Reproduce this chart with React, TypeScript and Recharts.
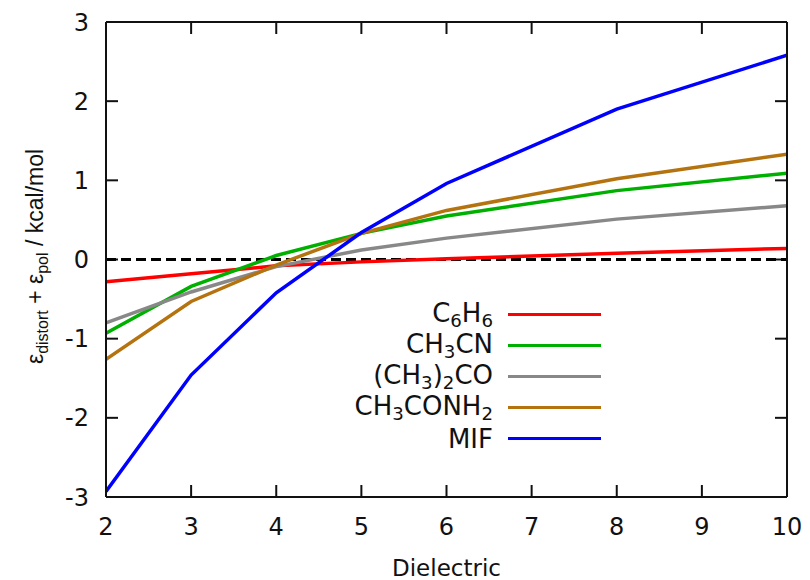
import React from 'react'
import { LineChart, Line, XAxis, YAxis, ReferenceLine, Legend } from 'recharts'

// dielectric constants sampled
const dielectric = [2, 3, 4, 5, 6, 8, 10]

// distortion + polarisation energies, kcal/mol
const c6h6 = [-0.28, -0.18, -0.08, -0.03, 0.01, 0.08, 0.14]
const ch3cn = [-0.93, -0.34, 0.05, 0.33, 0.55, 0.87, 1.09]
const acetone = [-0.8, -0.41, -0.09, 0.12, 0.27, 0.51, 0.68]
const acetamide = [-1.26, -0.53, -0.07, 0.33, 0.62, 1.02, 1.33]
const mif = [-2.93, -1.46, -0.42, 0.34, 0.96, 1.9, 2.58]

const seriesLabels = ['C6H6', 'CH3CN', '(CH3)2CO', 'CH3CONH2', 'MIF']
const seriesValues = [c6h6, ch3cn, acetone, acetamide, mif]
const seriesColors = ['#ff0000', '#00b000', '#888888', '#b5730f', '#0000ff']

const xTicks = [2, 3, 4, 5, 6, 7, 8, 9, 10]
const yTicks = [-3, -2, -1, 0, 1, 2, 3]
const xDomain: [number, number] = [2, 10]
const yDomain: [number, number] = [-3, 3]

const FONT = '"DejaVu Sans", Verdana, sans-serif'
const LABEL_FONT = '"Liberation Sans", Arial, Helvetica, sans-serif'
const INK = '#111'

// plot box is 681 x 475 px; inward tick marks are 12 px long
const X_TICK_LEN = (12 / 681) * (xDomain[1] - xDomain[0])
const Y_TICK_LEN = (12 / 475) * (yDomain[1] - yDomain[0])

const data = dielectric.map((x, i) => {
  const row: Record<string, number> = { x }
  seriesValues.forEach((vals, s) => {
    row['s' + s] = vals[i]
  })
  return row
})

function Formula({ text }: { text: string }) {
  const parts = text.split(/(\d+)/).filter((p) => p !== '')
  return (
    <>
      {parts.map((p, i) =>
        /^\d+$/.test(p) ? (
          <span key={i} style={{ fontSize: '0.7em', position: 'relative', top: '0.3em' }}>{p}</span>
        ) : (
          <span key={i}>{p}</span>
        ),
      )}
    </>
  )
}

function LegendBox() {
  return (
    <div style={{ fontFamily: FONT, fontSize: 26, color: INK }}>
      {seriesLabels.map((label, i) => (
        <div key={label} style={{ display: 'flex', alignItems: 'center', height: 31 }}>
          <div style={{ width: 243, textAlign: 'right', lineHeight: '24px', whiteSpace: 'nowrap' }}>
            <Formula text={label} />
          </div>
          <div style={{ width: 15 }} />
          <div style={{ width: 93, height: 3.5, background: seriesColors[i] }} />
        </div>
      ))}
    </div>
  )
}

// eslint-disable-next-line @typescript-eslint/no-explicit-any
function YLabel(props: any) {
  const { viewBox } = props
  const cx = viewBox.x + 43
  const cy = viewBox.y + viewBox.height / 2 - 3
  return (
    <text
      x={cx}
      y={cy}
      transform={`rotate(-90, ${cx}, ${cy})`}
      textAnchor="middle"
      fontFamily={LABEL_FONT}
      fontSize={23}
      fill={INK}
    >
      <tspan>ε</tspan>
      <tspan fontSize={16} dy={5}>distort</tspan>
      <tspan dy={-5}> + ε</tspan>
      <tspan fontSize={16} dy={5}>pol</tspan>
      <tspan dy={-5}> / kcal/mol</tspan>
    </text>
  )
}

// eslint-disable-next-line @typescript-eslint/no-explicit-any
function XLabel(props: any) {
  const { viewBox } = props
  return (
    <text
      x={viewBox.x + viewBox.width / 2}
      y={viewBox.y + 79}
      textAnchor="middle"
      fontFamily={FONT}
      fontSize={23}
      fill={INK}
    >
      Dielectric
    </text>
  )
}

const axisStroke = { stroke: INK, strokeWidth: 2 }
const tickText = { fill: INK, fontSize: 24, fontFamily: FONT }
const tickMark = { stroke: INK, strokeWidth: 2 }

export default function App() {
  return (
    <div style={{ position: 'absolute', left: 0, top: 0, width: 810, height: 580, background: '#fff' }}>
      <LineChart width={810} height={580} data={data} margin={{ top: 0, right: 0, bottom: 0, left: 0 }}>
        <XAxis
          dataKey="x"
          type="number"
          domain={xDomain}
          ticks={xTicks}
          interval={0}
          allowDataOverflow
          height={83}
          tick={tickText}
          tickSize={0}
          tickMargin={21}
          tickLine={false}
          axisLine={axisStroke}
          label={<XLabel />}
        />
        <XAxis
          xAxisId="top"
          orientation="top"
          dataKey="x"
          type="number"
          domain={xDomain}
          ticks={xTicks}
          allowDataOverflow
          height={22}
          tick={false}
          tickLine={false}
          axisLine={axisStroke}
        />
        <YAxis
          type="number"
          domain={yDomain}
          ticks={yTicks}
          interval={0}
          allowDataOverflow
          width={106}
          tick={tickText}
          tickSize={0}
          tickMargin={17}
          tickLine={false}
          axisLine={axisStroke}
          label={<YLabel />}
        />
        <YAxis
          yAxisId="right"
          orientation="right"
          type="number"
          domain={yDomain}
          ticks={yTicks}
          allowDataOverflow
          width={23}
          tick={false}
          tickLine={false}
          axisLine={axisStroke}
        />
        {xTicks.map((t) => (
          <ReferenceLine
            key={'b' + t}
            segment={[{ x: t, y: yDomain[0] }, { x: t, y: yDomain[0] + Y_TICK_LEN }]}
            {...tickMark}
            ifOverflow="visible"
          />
        ))}
        {xTicks.map((t) => (
          <ReferenceLine
            key={'t' + t}
            segment={[{ x: t, y: yDomain[1] }, { x: t, y: yDomain[1] - Y_TICK_LEN }]}
            {...tickMark}
            ifOverflow="visible"
          />
        ))}
        {yTicks.map((t) => (
          <ReferenceLine
            key={'l' + t}
            segment={[{ x: xDomain[0], y: t }, { x: xDomain[0] + X_TICK_LEN, y: t }]}
            {...tickMark}
            ifOverflow="visible"
          />
        ))}
        {yTicks.map((t) => (
          <ReferenceLine
            key={'r' + t}
            segment={[{ x: xDomain[1], y: t }, { x: xDomain[1] - X_TICK_LEN, y: t }]}
            {...tickMark}
            ifOverflow="visible"
          />
        ))}
        <ReferenceLine y={0} stroke="#000" strokeWidth={3} strokeDasharray="10 5" />
        {seriesLabels.map((label, i) => (
          <Line
            key={label}
            type="linear"
            dataKey={'s' + i}
            name={label}
            stroke={seriesColors[i]}
            strokeWidth={3.5}
            dot={false}
            isAnimationActive={false}
          />
        ))}
        <Legend
          layout="vertical"
          align="center"
          verticalAlign="middle"
          content={<LegendBox />}
          wrapperStyle={{ position: 'absolute', left: 250, top: 299, width: 360 }}
        />
      </LineChart>
    </div>
  )
}
